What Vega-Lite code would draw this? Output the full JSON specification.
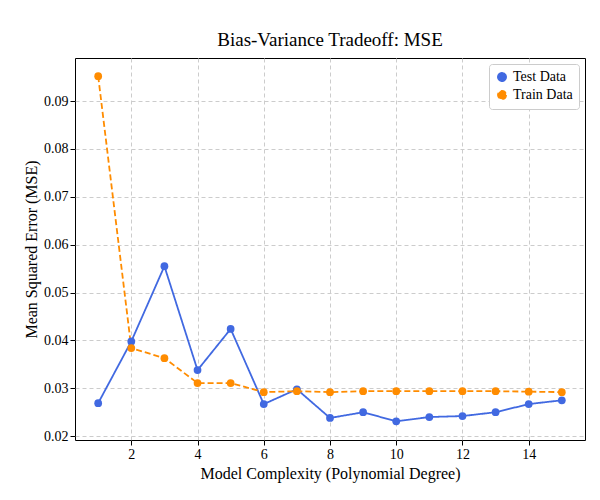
{
  "$schema": "https://vega.github.io/schema/vega-lite/v6.json",
  "autosize": "none",
  "width": 510,
  "height": 382,
  "padding": {"left": 75, "top": 58, "right": 15, "bottom": 60},
  "background": "white",
  "title": {"text": "Bias-Variance Tradeoff: MSE", "font": "Liberation Serif", "fontSize": 19, "fontWeight": "normal", "offset": 8},
  "config": {
    "font": "Liberation Serif",
    "view": {"stroke": "black", "strokeWidth": 1},
    "axis": {"labelFont": "Liberation Serif", "titleFont": "Liberation Serif", "labelFontSize": 14, "titleFontSize": 16, "titleFontWeight": "normal", "labelColor": "black", "titleColor": "black", "tickColor": "black", "domain": false, "gridDash": [4, 3], "gridColor": "#cccccc"}
  },
  "data": {"values": [
    {"degree": 1, "mse": 0.0269, "series": "Test Data"},
    {"degree": 2, "mse": 0.0398, "series": "Test Data"},
    {"degree": 3, "mse": 0.0555, "series": "Test Data"},
    {"degree": 4, "mse": 0.0338, "series": "Test Data"},
    {"degree": 5, "mse": 0.0424, "series": "Test Data"},
    {"degree": 6, "mse": 0.0267, "series": "Test Data"},
    {"degree": 7, "mse": 0.0298, "series": "Test Data"},
    {"degree": 8, "mse": 0.0238, "series": "Test Data"},
    {"degree": 9, "mse": 0.0250, "series": "Test Data"},
    {"degree": 10, "mse": 0.0231, "series": "Test Data"},
    {"degree": 11, "mse": 0.0240, "series": "Test Data"},
    {"degree": 12, "mse": 0.0242, "series": "Test Data"},
    {"degree": 13, "mse": 0.0250, "series": "Test Data"},
    {"degree": 14, "mse": 0.0267, "series": "Test Data"},
    {"degree": 15, "mse": 0.0275, "series": "Test Data"},
    {"degree": 1, "mse": 0.0952, "series": "Train Data"},
    {"degree": 2, "mse": 0.0384, "series": "Train Data"},
    {"degree": 3, "mse": 0.0363, "series": "Train Data"},
    {"degree": 4, "mse": 0.0311, "series": "Train Data"},
    {"degree": 5, "mse": 0.0311, "series": "Train Data"},
    {"degree": 6, "mse": 0.0292, "series": "Train Data"},
    {"degree": 7, "mse": 0.0294, "series": "Train Data"},
    {"degree": 8, "mse": 0.0292, "series": "Train Data"},
    {"degree": 9, "mse": 0.0294, "series": "Train Data"},
    {"degree": 10, "mse": 0.0294, "series": "Train Data"},
    {"degree": 11, "mse": 0.0294, "series": "Train Data"},
    {"degree": 12, "mse": 0.0294, "series": "Train Data"},
    {"degree": 13, "mse": 0.0294, "series": "Train Data"},
    {"degree": 14, "mse": 0.0293, "series": "Train Data"},
    {"degree": 15, "mse": 0.0292, "series": "Train Data"}
  ]},
  "mark": {"type": "line", "strokeWidth": 1.8, "point": {"filled": true, "size": 60, "opacity": 1}},
  "encoding": {
    "x": {"field": "degree", "type": "quantitative", "title": "Model Complexity (Polynomial Degree)", "scale": {"domain": [0.3, 15.7], "nice": false}, "axis": {"values": [2, 4, 6, 8, 10, 12, 14]}},
    "y": {"field": "mse", "type": "quantitative", "title": "Mean Squared Error (MSE)", "scale": {"domain": [0.0192, 0.099], "nice": false, "zero": false}, "axis": {"values": [0.02, 0.03, 0.04, 0.05, 0.06, 0.07, 0.08, 0.09], "format": ".2f"}},
    "color": {"field": "series", "type": "nominal", "scale": {"domain": ["Test Data", "Train Data"], "range": ["#4169e1", "#ff8c00"]}, "legend": {"title": null, "orient": "top-right", "labelFontSize": 14, "labelFont": "Liberation Serif", "fillColor": "white", "strokeColor": "#cccccc", "padding": 6, "cornerRadius": 3, "symbolType": "circle", "symbolSize": 70, "offset": 6}},
    "strokeDash": {"field": "series", "type": "nominal", "scale": {"domain": ["Test Data", "Train Data"], "range": [[1, 0], [6, 3]]}, "legend": null}
  }
}
